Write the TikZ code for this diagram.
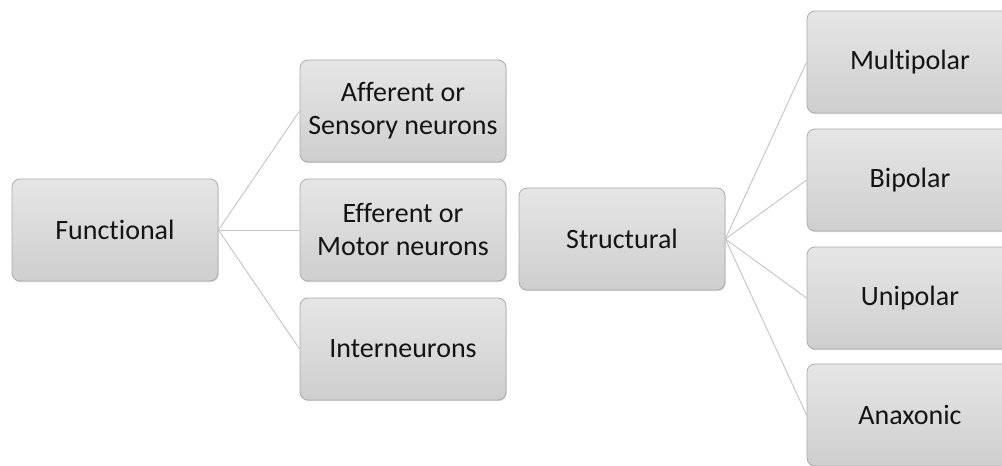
\documentclass[tikz,border=0pt]{standalone}
\usepackage{fontspec}
\setmainfont{Carlito}[Ligatures=NoCommon]
\usetikzlibrary{shadows}

\begin{document}
\begin{tikzpicture}[x=1pt,y=-1pt,
    box/.style={draw=black!33, line width=0.8pt, rounded corners=8pt,
        top color=black!10, bottom color=black!19,
        minimum width=206pt, minimum height=102pt, inner sep=0pt,
        align=center, text=black!92, font=\fontsize{28}{33}\selectfont,
        drop shadow={shadow xshift=0.6pt, shadow yshift=-1.2pt, fill=black!30, opacity=0.5}},
    link/.style={draw=black!22, line width=1pt}]
    % 画布范围
    \useasboundingbox (0,0) rectangle (1002,466);
    \clip (0,0) rectangle (1002,466);

    % 功能分类
    \node[box] (func) at (115,230) {Functional};
    \node[box] (aff) at (403,111) {Afferent or\\Sensory neurons};
    \node[box] (eff) at (403,230) {Efferent or\\Motor neurons};
    \node[box] (inter) at (403,349) {Interneurons};

    % 结构分类
    \node[box] (struct) at (622,239) {Structural};
    \node[box] (multi) at (910,62) {Multipolar};
    \node[box] (bi) at (910,180) {Bipolar};
    \node[box] (uni) at (910,298) {Unipolar};
    \node[box] (anax) at (910,415) {Anaxonic};

    % 连线
    \draw[link] (func.east) -- (aff.west);
    \draw[link] (func.east) -- (eff.west);
    \draw[link] (func.east) -- (inter.west);
    \draw[link] (struct.east) -- (multi.west);
    \draw[link] (struct.east) -- (bi.west);
    \draw[link] (struct.east) -- (uni.west);
    \draw[link] (struct.east) -- (anax.west);
\end{tikzpicture}
\end{document}
